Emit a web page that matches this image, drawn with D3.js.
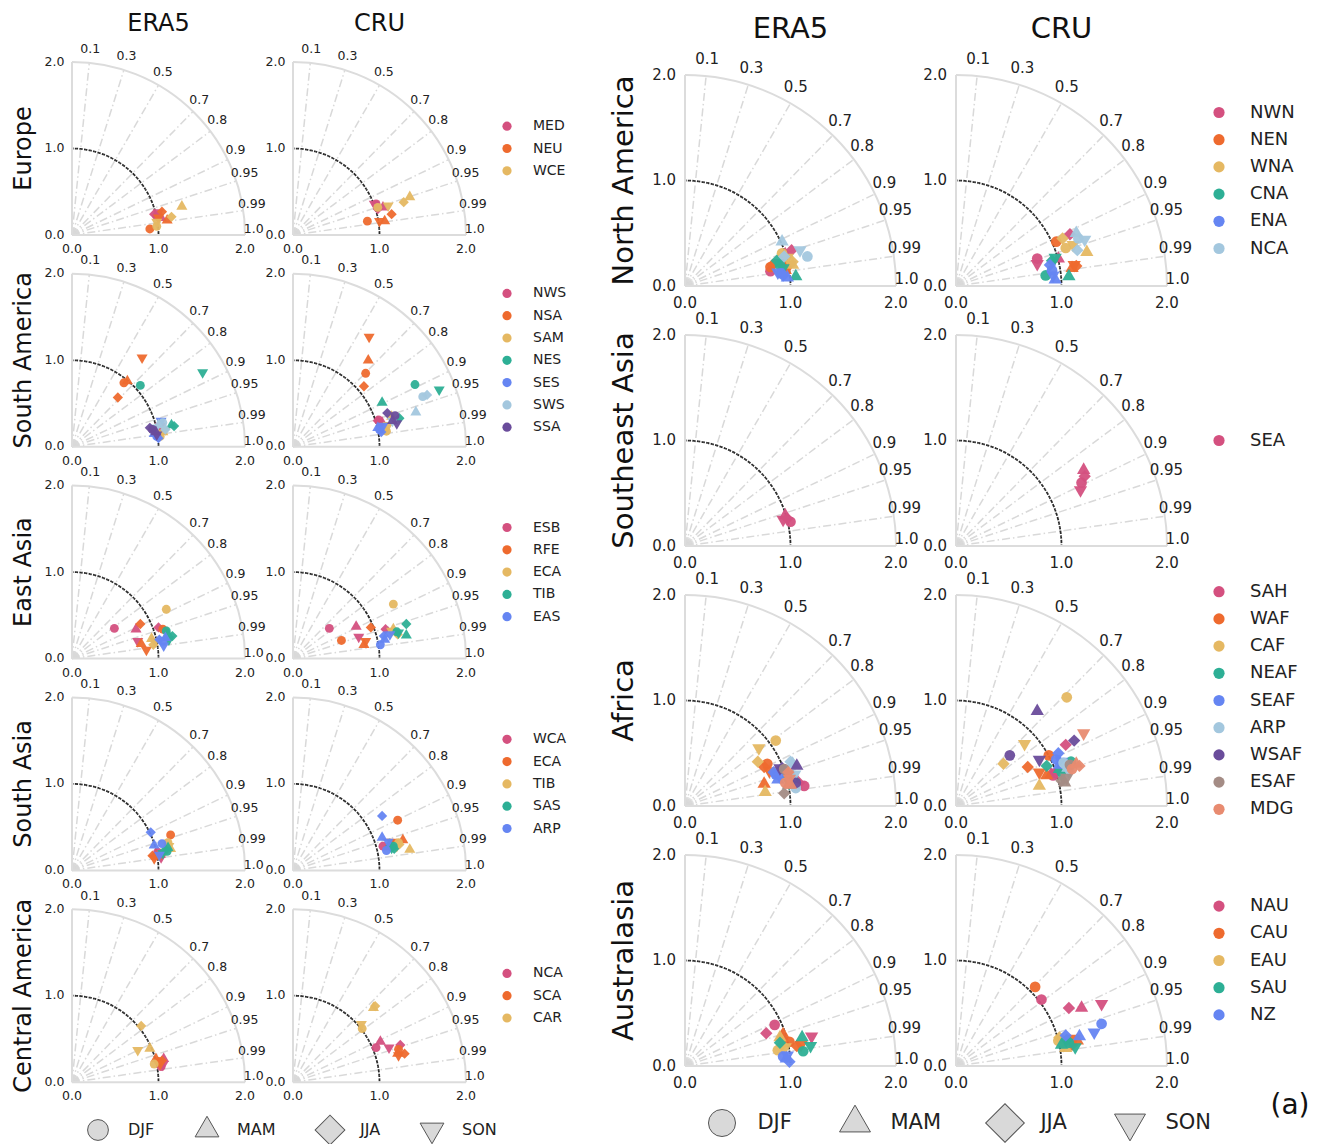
<!DOCTYPE html>
<html>
<head>
<meta charset="utf-8">
<script src="https://cdn.jsdelivr.net/npm/d3@7"></script>
<style>
  body { margin: 0; background: #fff; }
  svg { display: block; font-family: "DejaVu Sans", sans-serif; }
</style>
</head>
<body>
<div id="chart"></div>
<script>
// ---- data ----
var seasons = ["DJF", "MAM", "JJA", "SON"];
var corrTicks = [0.1, 0.3, 0.5, 0.7, 0.8, 0.9, 0.95, 0.99, 1.0];
var stdTicks = [0, 1, 2];
var datasets = ["ERA5", "CRU"];
var palette = ["#d4507f", "#ee6a2e", "#e5b862", "#2daf95", "#6585f2",
               "#a3c7de", "#6a4c9b", "#a48c85", "#e88b70"];

// points are [x, y] in normalised std units, one per season (DJF, MAM, JJA, SON)
var europeRegions = ["MED", "NEU", "WCE"];
var europeERA5 = [
    [[0.98, 0.22], [1.03, 0.20], [0.95, 0.24], [1.00, 0.26]],
    [[0.90, 0.07], [1.10, 0.17], [1.04, 0.27], [1.00, 0.20]],
    [[0.98, 0.10], [1.27, 0.33], [1.15, 0.21], [0.98, 0.15]]];
var europeCRU = [
    [[0.96, 0.36], [1.04, 0.32], [0.98, 0.30], [0.94, 0.36]],
    [[0.86, 0.16], [1.06, 0.16], [1.14, 0.24], [1.00, 0.16]],
    [[0.98, 0.32], [1.35, 0.44], [1.28, 0.38], [1.10, 0.34]]];

var southAmRegions = ["NWS", "NSA", "SAM", "NES", "SES", "SWS", "SSA"];
var southAmERA5 = [
    [[0.95, 0.20], [1.00, 0.22], [0.97, 0.18], [1.02, 0.24]],
    [[0.60, 0.74], [0.64, 0.76], [0.53, 0.57], [0.81, 1.03]],
    [[1.02, 0.12], [1.05, 0.17], [1.00, 0.15], [1.08, 0.20]],
    [[0.79, 0.71], [1.15, 0.25], [1.18, 0.24], [1.51, 0.86]],
    [[0.98, 0.12], [0.95, 0.15], [1.00, 0.10], [1.03, 0.30]],
    [[1.05, 0.28], [1.00, 0.25], [1.08, 0.20], [0.97, 0.22]],
    [[0.93, 0.20], [0.97, 0.17], [0.90, 0.22], [0.98, 0.14]]];
var southAmCRU = [
    [[0.99, 0.31], [1.03, 0.28], [0.98, 0.30], [1.02, 0.25]],
    [[0.84, 0.85], [0.87, 1.00], [0.82, 0.70], [0.88, 1.27]],
    [[1.08, 0.18], [1.14, 0.35], [1.06, 0.20], [1.10, 0.25]],
    [[1.41, 0.72], [1.03, 0.51], [1.23, 0.33], [1.69, 0.66]],
    [[1.00, 0.20], [0.98, 0.22], [1.02, 0.17], [1.04, 0.24]],
    [[1.50, 0.58], [1.42, 0.40], [1.55, 0.60], [1.15, 0.30]],
    [[1.18, 0.36], [1.15, 0.30], [1.09, 0.39], [1.20, 0.27]]];

var eastAsiaRegions = ["ESB", "RFE", "ECA", "TIB", "EAS"];
var eastAsiaERA5 = [
    [[0.49, 0.35], [0.74, 0.34], [1.00, 0.36], [0.76, 0.20]],
    [[1.05, 0.34], [0.80, 0.17], [0.79, 0.40], [0.86, 0.10]],
    [[1.09, 0.57], [0.92, 0.23], [0.94, 0.16], [0.96, 0.20]],
    [[1.09, 0.32], [1.11, 0.28], [1.16, 0.26], [1.12, 0.22]],
    [[1.05, 0.20], [1.08, 0.24], [1.01, 0.22], [1.06, 0.15]]];
var eastAsiaCRU = [
    [[0.42, 0.35], [0.73, 0.37], [1.07, 0.34], [0.76, 0.25]],
    [[0.56, 0.21], [0.82, 0.16], [0.90, 0.36], [0.84, 0.20]],
    [[1.16, 0.63], [1.16, 0.34], [1.21, 0.28], [1.14, 0.32]],
    [[1.20, 0.31], [1.31, 0.27], [1.31, 0.40], [1.22, 0.30]],
    [[1.01, 0.16], [1.06, 0.22], [1.05, 0.26], [1.12, 0.28]]];

var southAsiaRegions = ["WCA", "ECA", "TIB", "SAS", "ARP"];
var southAsiaERA5 = [
    [[0.99, 0.21], [1.02, 0.18], [0.96, 0.17], [1.03, 0.15]],
    [[1.14, 0.41], [0.98, 0.16], [0.93, 0.17], [0.95, 0.14]],
    [[1.11, 0.32], [1.14, 0.25], [1.08, 0.22], [1.12, 0.28]],
    [[1.10, 0.22], [1.11, 0.26], [1.08, 0.24], [1.05, 0.20]],
    [[1.04, 0.31], [0.95, 0.29], [0.91, 0.44], [1.01, 0.18]]];
var southAsiaCRU = [
    [[1.04, 0.28], [1.10, 0.27], [1.15, 0.30], [1.18, 0.32]],
    [[1.21, 0.58], [1.27, 0.35], [1.20, 0.30], [1.14, 0.33]],
    [[1.22, 0.32], [1.35, 0.24], [1.23, 0.30], [1.20, 0.28]],
    [[1.16, 0.28], [1.12, 0.30], [1.17, 0.25], [1.14, 0.26]],
    [[1.08, 0.23], [1.03, 0.38], [1.03, 0.63], [1.10, 0.33]]];

var centralAmRegions = ["NCA", "SCA", "CAR"];
var centralAmERA5 = [
    [[1.03, 0.18], [1.06, 0.27], [1.02, 0.22], [1.05, 0.20]],
    [[1.00, 0.24], [0.97, 0.27], [1.04, 0.25], [1.02, 0.21]],
    [[0.95, 0.21], [0.90, 0.39], [0.80, 0.65], [0.76, 0.37]]];
var centralAmCRU = [
    [[0.96, 0.40], [1.01, 0.47], [1.24, 0.43], [1.11, 0.40]],
    [[1.22, 0.38], [1.21, 0.33], [1.29, 0.33], [1.22, 0.31]],
    [[0.80, 0.62], [0.93, 0.86], [0.95, 0.88], [0.79, 0.67]]];

var northAmRegions = ["NWN", "NEN", "WNA", "CNA", "ENA", "NCA"];
var northAmERA5 = [
    [[0.81, 0.14], [0.95, 0.30], [1.01, 0.34], [0.90, 0.22]],
    [[0.81, 0.18], [0.95, 0.15], [0.83, 0.20], [0.99, 0.20]],
    [[0.92, 0.31], [1.02, 0.20], [1.02, 0.23], [0.97, 0.27]],
    [[0.90, 0.20], [1.05, 0.09], [0.87, 0.24], [0.93, 0.17]],
    [[0.91, 0.12], [0.97, 0.08], [0.93, 0.10], [0.88, 0.13]],
    [[1.16, 0.28], [0.92, 0.42], [0.94, 0.28], [1.09, 0.34]]];
var northAmCRU = [
    [[0.77, 0.26], [0.97, 0.26], [1.08, 0.49], [0.77, 0.21]],
    [[0.95, 0.42], [1.10, 0.17], [1.14, 0.19], [1.12, 0.20]],
    [[1.04, 0.36], [1.24, 0.32], [1.01, 0.45], [1.11, 0.39]],
    [[0.85, 0.10], [1.07, 0.09], [0.91, 0.24], [0.94, 0.27]],
    [[0.91, 0.15], [0.94, 0.06], [0.89, 0.20], [0.92, 0.10]],
    [[1.16, 0.45], [1.14, 0.50], [1.15, 0.34], [1.22, 0.44]]];

var seAsiaRegions = ["SEA"];
var seAsiaERA5 = [
    [[1.00, 0.23], [0.95, 0.29], [0.97, 0.26], [0.93, 0.25]]];
var seAsiaCRU = [
    [[1.19, 0.60], [1.21, 0.72], [1.22, 0.66], [1.18, 0.53]]];

var africaRegions = ["SAH", "WAF", "CAF", "NEAF", "SEAF", "ARP", "WSAF", "ESAF", "MDG"];
var africaERA5 = [
    [[1.13, 0.19], [1.05, 0.20], [1.08, 0.22], [1.02, 0.25]],
    [[0.78, 0.40], [0.75, 0.21], [0.75, 0.37], [0.80, 0.33]],
    [[0.86, 0.62], [0.76, 0.13], [0.69, 0.42], [0.70, 0.55]],
    [[1.00, 0.28], [0.97, 0.30], [1.03, 0.25], [0.99, 0.22]],
    [[0.86, 0.30], [0.88, 0.25], [0.84, 0.32], [0.90, 0.28]],
    [[1.05, 0.17], [1.02, 0.40], [1.00, 0.42], [1.04, 0.30]],
    [[1.05, 0.22], [1.06, 0.38], [0.92, 0.36], [0.90, 0.36]],
    [[0.94, 0.35], [0.98, 0.20], [0.94, 0.12], [0.97, 0.30]],
    [[0.95, 0.22], [1.00, 0.20], [0.98, 0.32], [0.99, 0.26]]];
var africaCRU = [
    [[0.92, 0.29], [0.90, 0.30], [1.04, 0.58], [0.95, 0.32]],
    [[0.88, 0.48], [0.86, 0.29], [0.68, 0.37], [0.79, 0.32]],
    [[1.05, 1.03], [0.79, 0.19], [0.45, 0.40], [0.65, 0.59]],
    [[1.09, 0.42], [0.98, 0.35], [0.86, 0.38], [1.00, 0.30]],
    [[0.95, 0.44], [0.98, 0.39], [0.97, 0.50], [1.00, 0.42]],
    [[1.02, 0.41], [1.06, 0.36], [1.04, 0.38], [1.07, 0.33]],
    [[0.51, 0.48], [0.77, 0.90], [1.12, 0.62], [0.79, 0.44]],
    [[1.08, 0.39], [1.03, 0.22], [1.00, 0.24], [1.05, 0.27]],
    [[1.10, 0.35], [1.14, 0.40], [1.17, 0.38], [1.21, 0.69]]];

var australRegions = ["NAU", "CAU", "EAU", "SAU", "NZ"];
var australERA5 = [
    [[0.85, 0.39], [0.92, 0.28], [0.77, 0.31], [1.20, 0.28]],
    [[0.99, 0.23], [0.93, 0.30], [1.06, 0.19], [1.10, 0.20]],
    [[0.88, 0.15], [0.90, 0.27], [0.92, 0.20], [0.95, 0.18]],
    [[1.12, 0.14], [1.11, 0.27], [0.90, 0.22], [1.19, 0.19]],
    [[0.93, 0.09], [0.96, 0.07], [0.99, 0.04], [0.97, 0.10]]];
var australCRU = [
    [[0.81, 0.63], [1.19, 0.55], [1.07, 0.55], [1.38, 0.59]],
    [[0.75, 0.75], [1.15, 0.24], [1.10, 0.20], [1.12, 0.26]],
    [[0.97, 0.24], [1.04, 0.17], [0.98, 0.27], [1.02, 0.20]],
    [[1.07, 0.22], [1.00, 0.20], [1.05, 0.25], [1.13, 0.18]],
    [[1.38, 0.40], [1.17, 0.28], [1.04, 0.29], [1.31, 0.32]]];

// ---- layout ----
var W = 1319, H = 1144;

var leftRows = [
    {name: "Europe", regions: europeRegions, sets: [europeERA5, europeCRU]},
    {name: "South America", regions: southAmRegions, sets: [southAmERA5, southAmCRU]},
    {name: "East Asia", regions: eastAsiaRegions, sets: [eastAsiaERA5, eastAsiaCRU]},
    {name: "South Asia", regions: southAsiaRegions, sets: [southAsiaERA5, southAsiaCRU]},
    {name: "Central America", regions: centralAmRegions, sets: [centralAmERA5, centralAmCRU]}
];
var rightRows = [
    {name: "North America", regions: northAmRegions, sets: [northAmERA5, northAmCRU]},
    {name: "Southeast Asia", regions: seAsiaRegions, sets: [seAsiaERA5, seAsiaCRU]},
    {name: "Africa", regions: africaRegions, sets: [africaERA5, africaCRU]},
    {name: "Australasia", regions: australRegions, sets: [australERA5, australCRU]}
];

var leftPanel = {
    rows: leftRows, ox: [72, 293], oy0: 235, step: 211.8, R: 173,
    legendX: 507, legendGap: 22.3, legDx: 26, tick: 12.5, title: 24, rowFont: 24, rowX: 24,
    titleY: 31, legFont: 14, legR: 4.6, mk: 1,
    keyY: 1130, keyX: [98, 207, 330, 432], keyFont: 16, keyS: 1
};
var rightPanel = {
    rows: rightRows, ox: [685, 956], oy0: 286, step: 260, R: 211,
    legendX: 1219, legendGap: 27.2, legDx: 31, tick: 15, title: 29, rowFont: 29, rowX: 625,
    titleY: 38, legFont: 18, legR: 5.6, mk: 1.45,
    keyY: 1123, keyX: [722, 855, 1005, 1130], keyFont: 21, keyS: 1.3
};

var svg = d3.select("#chart").append("svg")
    .attr("width", W)
    .attr("height", H);

// marker shapes: circle, triangle up, diamond, triangle down
function symbolPath(k, size, f) {
    var types = [d3.symbolCircle, d3.symbolTriangle, d3.symbolSquare, d3.symbolTriangle];
    return d3.symbol().type(types[k]).size(size * f[k])();
}
function symbolRotate(k) {
    return k === 2 ? 45 : (k === 3 ? 180 : 0);
}
var plotFactors = [1, 0.85, 0.85, 0.85];
var keyFactors = [1, 0.72, 1.3, 0.72];

function drawTaylor(g, P, points) {
    var R = P.R;
    var r = d3.scaleLinear().domain([0, 2]).range([0, R]);

    // origin patch
    g.append("path")
        .attr("d", d3.arc().innerRadius(0).outerRadius(r(0.09))
            .startAngle(0).endAngle(Math.PI / 2))
        .attr("fill", "#e2e2e2");

    // correlation rays
    g.selectAll("line.ray")
        .data(corrTicks.filter(function (c) { return c < 1; }))
        .enter().append("line")
        .attr("class", "ray")
        .attr("x1", 0).attr("y1", 0)
        .attr("x2", function (c) { return r(2) * c; })
        .attr("y2", function (c) { return -r(2) * Math.sqrt(1 - c * c); })
        .attr("stroke", "#d9d9d9")
        .attr("stroke-width", 1.5)
        .attr("stroke-dasharray", "8,3,1.5,3");

    // reference std arc (dotted)
    g.append("path")
        .attr("d", d3.arc().innerRadius(r(1)).outerRadius(r(1))
            .startAngle(0).endAngle(Math.PI / 2))
        .attr("fill", "none")
        .attr("stroke", "#2a2a2a")
        .attr("stroke-width", 1.8)
        .attr("stroke-dasharray", "1.6,3");

    // frame: outer arc and axes
    g.append("path")
        .attr("d", d3.arc().innerRadius(r(2)).outerRadius(r(2))
            .startAngle(0).endAngle(Math.PI / 2))
        .attr("fill", "none")
        .attr("stroke", "#dcdcdc")
        .attr("stroke-width", 2);
    g.append("line")
        .attr("x1", 0).attr("y1", 0).attr("x2", r(2)).attr("y2", 0)
        .attr("stroke", "#dcdcdc").attr("stroke-width", 2);
    g.append("line")
        .attr("x1", 0).attr("y1", 0).attr("x2", 0).attr("y2", -r(2))
        .attr("stroke", "#dcdcdc").attr("stroke-width", 2);

    // std tick labels
    g.selectAll("text.xt").data(stdTicks).enter().append("text")
        .attr("x", function (d) { return r(d); })
        .attr("y", P.tick + 2)
        .attr("text-anchor", "middle")
        .attr("dominant-baseline", "middle")
        .attr("font-size", P.tick)
        .attr("fill", "#222")
        .text(d3.format(".1f"));
    g.selectAll("text.yt").data(stdTicks).enter().append("text")
        .attr("x", -P.tick * 0.6)
        .attr("y", function (d) { return -r(d); })
        .attr("text-anchor", "end")
        .attr("dominant-baseline", "middle")
        .attr("font-size", P.tick)
        .attr("fill", "#222")
        .text(d3.format(".1f"));

    // correlation labels
    g.selectAll("text.ct").data(corrTicks).enter().append("text")
        .attr("x", function (c) { return r(2.1) * c; })
        .attr("y", function (c) { return -r(2.1) * Math.sqrt(1 - c * c) - P.tick * 0.42; })
        .attr("text-anchor", "middle")
        .attr("dominant-baseline", "middle")
        .attr("font-size", P.tick)
        .attr("fill", "#222")
        .text(function (c) { return c === 1 ? "1.0" : String(c); });

    // points
    points.forEach(function (reg, ri) {
        reg.forEach(function (p, si) {
            g.append("path")
                .attr("d", symbolPath(si, 62 * P.mk, plotFactors))
                .attr("transform", "translate(" + r(p[0]) + "," + (-r(p[1])) + ") rotate(" + symbolRotate(si) + ")")
                .attr("fill", palette[ri])
                .attr("fill-opacity", 0.95);
        });
    });
}

function drawPanel(P) {
    P.rows.forEach(function (row, i) {
        var oy = P.oy0 + i * P.step;
        datasets.forEach(function (ds, j) {
            var g = svg.append("g")
                .attr("transform", "translate(" + P.ox[j] + "," + oy + ")");
            drawTaylor(g, P, row.sets[j]);
        });

        // row label
        svg.append("text")
            .attr("transform", "translate(" + P.rowX + "," + (oy - P.R / 2) + ") rotate(-90)")
            .attr("text-anchor", "middle")
            .attr("dominant-baseline", "middle")
            .attr("font-size", P.rowFont)
            .attr("fill", "#111")
            .text(row.name);

        // region legend
        var n = row.regions.length;
        var ly0 = oy - P.R / 2 - (n - 1) * P.legendGap / 2;
        var leg = svg.append("g");
        row.regions.forEach(function (name, k) {
            var y = ly0 + k * P.legendGap;
            leg.append("circle")
                .attr("cx", P.legendX).attr("cy", y).attr("r", P.legR)
                .attr("fill", palette[k]);
            leg.append("text")
                .attr("x", P.legendX + P.legDx)
                .attr("y", y)
                .attr("dominant-baseline", "middle")
                .attr("font-size", P.legFont)
                .attr("fill", "#222")
                .text(name);
        });
    });

    // column titles
    datasets.forEach(function (ds, j) {
        svg.append("text")
            .attr("x", P.ox[j] + P.R / 2)
            .attr("y", P.titleY)
            .attr("text-anchor", "middle")
            .attr("font-size", P.title)
            .attr("fill", "#111")
            .text(ds);
    });

    // season key
    seasons.forEach(function (s, k) {
        var x = P.keyX[k];
        svg.append("path")
            .attr("d", symbolPath(k, 340 * P.keyS * P.keyS, keyFactors))
            .attr("transform", "translate(" + x + "," + P.keyY + ") rotate(" + symbolRotate(k) + ")")
            .attr("fill", "#d9d9d9")
            .attr("stroke", "#555")
            .attr("stroke-width", 1);
        svg.append("text")
            .attr("x", x + 18 * P.keyS + 12)
            .attr("y", P.keyY)
            .attr("dominant-baseline", "middle")
            .attr("font-size", P.keyFont)
            .attr("fill", "#222")
            .text(s);
    });
}

drawPanel(leftPanel);
drawPanel(rightPanel);

svg.append("text")
    .attr("x", 1290).attr("y", 1106)
    .attr("text-anchor", "middle")
    .attr("dominant-baseline", "middle")
    .attr("font-size", 28)
    .attr("fill", "#111")
    .text("(a)");
</script>
</body>
</html>
